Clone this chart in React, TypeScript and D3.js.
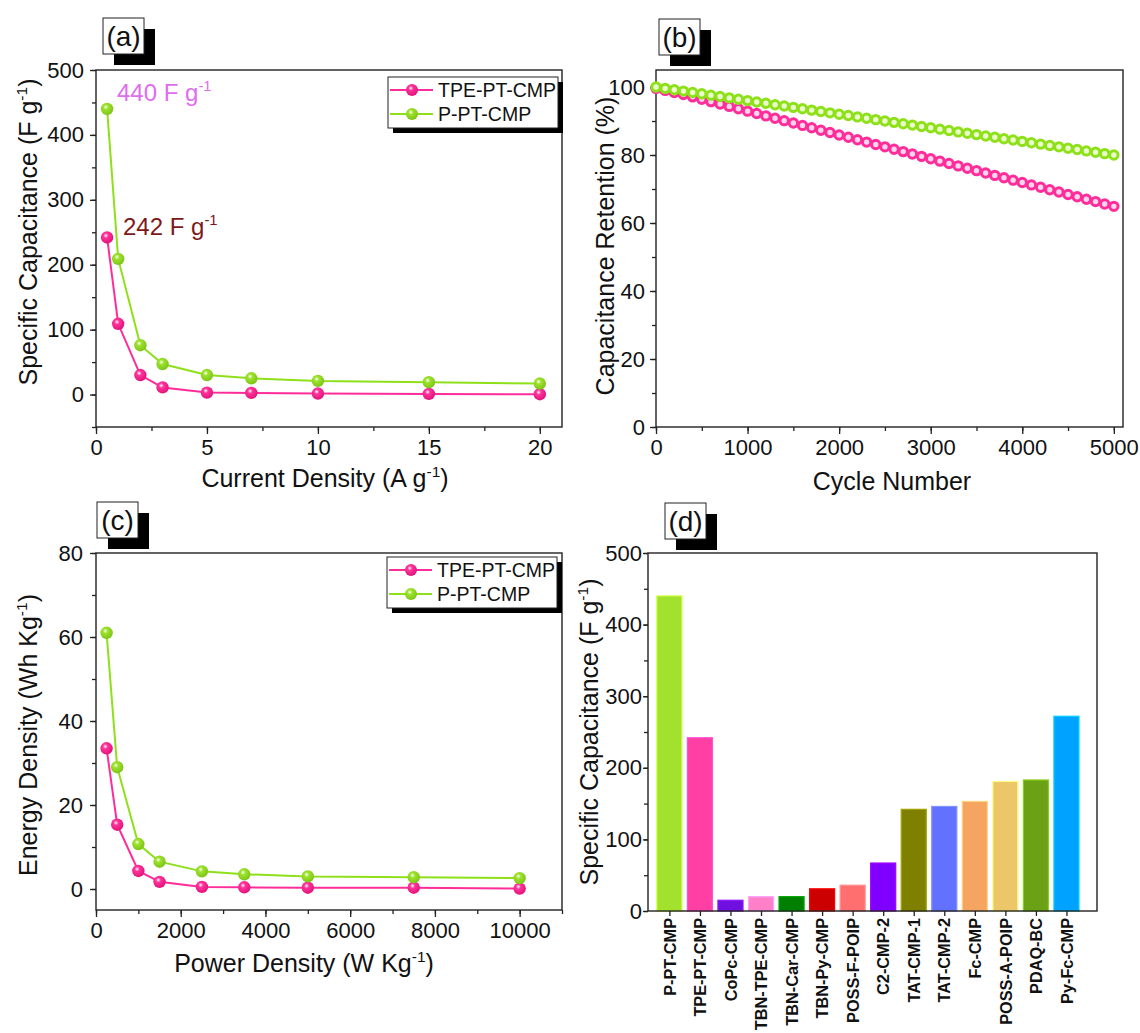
import { useEffect, useRef } from "react";
import * as d3 from "d3";

// (a) specific capacitance vs current density
const currentDensity = [0.5, 1, 2, 3, 5, 7, 10, 15, 20];
const capTPE = [242, 109, 30, 11, 3, 2.5, 1.5, 1, 0.5];
const capP = [440, 209, 76, 47, 30, 25, 21, 19, 17];

// (b) cycling stability
const cycles = [
  0, 100, 200, 300, 400, 500, 600, 700, 800, 900, 1000, 1100, 1200, 1300, 1400, 1500, 1600,
  1700, 1800, 1900, 2000, 2100, 2200, 2300, 2400, 2500, 2600, 2700, 2800, 2900, 3000, 3100,
  3200, 3300, 3400, 3500, 3600, 3700, 3800, 3900, 4000, 4100, 4200, 4300, 4400, 4500, 4600,
  4700, 4800, 4900, 5000,
];
const retentionTPE = [
  99.6, 99.0, 98.4, 97.8, 97.1, 96.4, 95.7, 95.0, 94.3, 93.6, 92.9, 92.2, 91.5, 90.8, 90.1,
  89.4, 88.7, 88.0, 87.3, 86.6, 85.9, 85.2, 84.5, 83.8, 83.1, 82.4, 81.7, 81.0, 80.3, 79.6,
  78.9, 78.2, 77.5, 76.8, 76.1, 75.4, 74.7, 74.0, 73.3, 72.6, 71.9, 71.2, 70.5, 69.8, 69.1,
  68.4, 67.7, 67.0, 66.3, 65.6, 64.9,
];
const retentionP = [
  100, 99.6, 99.2, 98.8, 98.4, 98.0, 97.6, 97.2, 96.8, 96.4, 96.0, 95.6, 95.2, 94.8, 94.4,
  94.0, 93.6, 93.2, 92.8, 92.4, 92.0, 91.6, 91.2, 90.8, 90.4, 90.0, 89.6, 89.2, 88.8, 88.4,
  88.0, 87.6, 87.2, 86.8, 86.4, 86.0, 85.6, 85.2, 84.8, 84.4, 84.0, 83.6, 83.2, 82.8, 82.4,
  82.0, 81.6, 81.2, 80.8, 80.4, 80.0,
];

// (c) Ragone
const powerDensity = [250, 500, 1000, 1500, 2500, 3500, 5000, 7500, 10000];
const energyTPE = [33.5, 15.3, 4.3, 1.7, 0.5, 0.4, 0.3, 0.3, 0.1];
const energyP = [61, 29, 10.7, 6.5, 4.2, 3.5, 3.0, 2.8, 2.6];

// (d) comparison
const materials = [
  "P-PT-CMP", "TPE-PT-CMP", "CoPc-CMP", "TBN-TPE-CMP", "TBN-Car-CMP", "TBN-Py-CMP",
  "POSS-F-POIP", "C2-CMP-2", "TAT-CMP-1", "TAT-CMP-2", "Fc-CMP", "POSS-A-POIP", "PDAQ-BC",
  "Py-Fc-CMP",
];
const materialCap = [440, 242, 15, 20, 20, 31, 36, 67, 142, 146, 153, 181, 183, 272];
const barColors = [
  "#a2e22e", "#ff3fa4", "#7010e0", "#ff7fc8", "#008000", "#cc0000", "#ff6f6f", "#8000ff",
  "#808000", "#6272ff", "#f5a462", "#ebc76a", "#6ba215", "#00a2ff",
];

const seriesNames = ["TPE-PT-CMP", "P-PT-CMP"];

const FONT = "'Liberation Sans', Arial, sans-serif";
const PINK = "#ff2d9a";
const GREEN = "#8ee11a";
const TICK_FS = 22;
const TITLE_FS = 25;

function supText(sel, before, sup, after, fs) {
  sel.append("tspan").text(before);
  sel.append("tspan").attr("dy", -fs * 0.4).attr("font-size", fs * 0.62).text(sup);
  sel.append("tspan").attr("dy", fs * 0.4).text(after);
}

function title(svg, x, y, rotate, parts) {
  const t = svg.append("text")
    .attr("transform", `translate(${x},${y})${rotate ? " rotate(-90)" : ""}`)
    .attr("text-anchor", "middle").attr("font-family", FONT)
    .attr("font-size", TITLE_FS).attr("fill", "#111");
  if (parts.length === 1) t.text(parts[0]);
  else supText(t, parts[0], parts[1], parts[2], TITLE_FS);
}

function drawAxes(svg, x, y, opt) {
  const [x0, x1] = x.range();
  const [y0, y1] = y.range();
  const pad = opt.pad ?? 6;
  const g = svg.append("g");
  g.append("g")
    .attr("transform", `translate(0,${y0})`)
    .call(d3.axisBottom(x).tickValues(opt.xMinor).tickSize(4).tickFormat(() => ""))
    .call((a) => a.select(".domain").remove());
  g.append("g")
    .attr("transform", `translate(0,${y0})`)
    .call(d3.axisBottom(x).tickValues(opt.xMajor).tickSize(7).tickPadding(5).tickFormat(d3.format("d")))
    .call((a) => a.select(".domain").remove());
  g.append("g")
    .attr("transform", `translate(${x0},0)`)
    .call(d3.axisLeft(y).tickValues(opt.yMinor).tickSize(4).tickFormat(() => ""))
    .call((a) => a.select(".domain").remove());
  g.append("g")
    .attr("transform", `translate(${x0},0)`)
    .call(d3.axisLeft(y).tickValues(opt.yMajor).tickSize(6).tickPadding(pad).tickFormat(d3.format("d")))
    .call((a) => a.select(".domain").remove());
  g.selectAll(".tick line").attr("stroke", "#222").attr("stroke-width", 1.3);
  g.selectAll("text").attr("font-family", FONT).attr("font-size", TICK_FS).attr("fill", "#111");
  svg.append("rect")
    .attr("x", x0).attr("y", y1).attr("width", x1 - x0).attr("height", y0 - y1)
    .attr("fill", "none").attr("stroke", "#222").attr("stroke-width", 1.4);
}

function panelLabel(svg, px, py, label) {
  svg.append("rect").attr("x", px + 11).attr("y", py + 11).attr("width", 41).attr("height", 36).attr("fill", "#000");
  svg.append("rect").attr("x", px).attr("y", py).attr("width", 41).attr("height", 36)
    .attr("fill", "#fff").attr("stroke", "#222").attr("stroke-width", 1);
  svg.append("text").attr("x", px + 20.5).attr("y", py + 28).attr("text-anchor", "middle")
    .attr("font-family", FONT).attr("font-size", 28).attr("fill", "#111").text(label);
}

function legend(svg, lx, ly) {
  svg.append("rect").attr("x", lx + 5).attr("y", ly + 5).attr("width", 170).attr("height", 51).attr("fill", "#000");
  svg.append("rect").attr("x", lx).attr("y", ly).attr("width", 170).attr("height", 51)
    .attr("fill", "#fff").attr("stroke", "#222").attr("stroke-width", 1);
  const cols = [PINK, GREEN];
  const grads = ["url(#ballPink)", "url(#ballGreen)"];
  seriesNames.forEach((name, i) => {
    const yy = ly + 13 + i * 24;
    svg.append("line").attr("x1", lx + 2).attr("x2", lx + 45).attr("y1", yy).attr("y2", yy)
      .attr("stroke", cols[i]).attr("stroke-width", 2);
    svg.append("circle").attr("cx", lx + 24).attr("cy", yy).attr("r", 6).attr("fill", grads[i]);
    svg.append("text").attr("x", lx + 50).attr("y", yy + 7).attr("font-family", FONT)
      .attr("font-size", 19.5).attr("fill", "#111").text(name);
  });
}

function ballSeries(svg, x, y, xs, ys, color, grad) {
  const pts = xs.map((d, i) => [x(d), y(ys[i])]);
  svg.append("path").attr("d", d3.line()(pts)).attr("fill", "none").attr("stroke", color).attr("stroke-width", 2);
  svg.append("g").selectAll("circle").data(pts).join("circle")
    .attr("cx", (d) => d[0]).attr("cy", (d) => d[1]).attr("r", 6.2).attr("fill", grad);
}

export default function App() {
  const ref = useRef(null);

  useEffect(() => {
    const svg = d3.select(ref.current);
    svg.selectAll("*").remove();

    const defs = svg.append("defs");
    [["ballPink", "#ff3399", "#e0137a"], ["ballGreen", "#9de22b", "#7cc41a"]].forEach(([id, c, dark]) => {
      const rg = defs.append("radialGradient").attr("id", id).attr("cx", "40%").attr("cy", "35%").attr("r", "65%");
      rg.append("stop").attr("offset", "0%").attr("stop-color", "#fff");
      rg.append("stop").attr("offset", "30%").attr("stop-color", c);
      rg.append("stop").attr("offset", "100%").attr("stop-color", dark);
    });

    // ---- (a)
    const xa = d3.scaleLinear().domain([0, 21]).range([96, 562]);
    const ya = d3.scaleLinear().domain([-50, 500]).range([427, 70]);
    drawAxes(svg, xa, ya, {
      xMajor: [0, 5, 10, 15, 20], xMinor: d3.range(0, 21, 2.5),
      yMajor: [0, 100, 200, 300, 400, 500], yMinor: d3.range(-50, 501, 50),
    });
    ballSeries(svg, xa, ya, currentDensity, capTPE, PINK, "url(#ballPink)");
    ballSeries(svg, xa, ya, currentDensity, capP, GREEN, "url(#ballGreen)");
    legend(svg, 388, 77);
    supText(svg.append("text").attr("x", 117).attr("y", 101).attr("font-family", FONT)
      .attr("font-size", 24).attr("fill", "#e06cf0"), "440 F g", "-1", "", 24);
    supText(svg.append("text").attr("x", 123).attr("y", 235).attr("font-family", FONT)
      .attr("font-size", 24).attr("fill", "#7d1818"), "242 F g", "-1", "", 24);
    title(svg, 325, 487, false, ["Current Density (A g", "-1", ")"]);
    title(svg, 37, 232, true, ["Specific Capacitance (F g", "-1", ")"]);
    panelLabel(svg, 103, 18, "(a)");

    // ---- (b)
    const xb = d3.scaleLinear().domain([0, 5100]).range([656, 1123]);
    const yb = d3.scaleLinear().domain([0, 105]).range([427, 70]);
    drawAxes(svg, xb, yb, {
      xMajor: [0, 1000, 2000, 3000, 4000, 5000], xMinor: d3.range(0, 5001, 500),
      yMajor: [0, 20, 40, 60, 80, 100], yMinor: d3.range(0, 101, 10), pad: 5,
    });
    [[retentionTPE, PINK, "#ffd6ec"], [retentionP, GREEN, "#eaffcc"]].forEach(([vals, c, f]) => {
      svg.append("g").selectAll("circle").data(cycles).join("circle")
        .attr("cx", (d) => xb(d)).attr("cy", (d, i) => yb(vals[i])).attr("r", 4.2)
        .attr("fill", f).attr("stroke", c).attr("stroke-width", 3);
    });
    title(svg, 892, 490, false, ["Cycle Number"]);
    title(svg, 614, 246, true, ["Capacitance Retention (%)"]);
    panelLabel(svg, 659, 19, "(b)");

    // ---- (c)
    const xc = d3.scaleLinear().domain([0, 11000]).range([96, 562]);
    const yc = d3.scaleLinear().domain([-5, 80]).range([910, 553]);
    drawAxes(svg, xc, yc, {
      xMajor: [0, 2000, 4000, 6000, 8000, 10000], xMinor: d3.range(0, 11001, 1000),
      yMajor: [0, 20, 40, 60, 80], yMinor: d3.range(0, 81, 10), pad: 7,
    });
    ballSeries(svg, xc, yc, powerDensity, energyTPE, PINK, "url(#ballPink)");
    ballSeries(svg, xc, yc, powerDensity, energyP, GREEN, "url(#ballGreen)");
    legend(svg, 387, 557);
    title(svg, 304, 972, false, ["Power Density (W Kg", "-1", ")"]);
    title(svg, 37, 735, true, ["Energy Density (Wh Kg", "-1", ")"]);
    panelLabel(svg, 97, 502, "(c)");

    // ---- (d)
    const idx = materials.map((_, i) => i + 1);
    const xd = d3.scaleLinear().domain([0.3, 15]).range([648, 1097]);
    const yd = d3.scaleLinear().domain([0, 500]).range([911, 553]);
    const bw = (xd(2) - xd(1)) * 0.82;
    svg.append("g").selectAll("rect").data(idx).join("rect")
      .attr("x", (d) => xd(d) - bw / 2).attr("width", bw)
      .attr("y", (d) => yd(materialCap[d - 1])).attr("height", (d) => yd(0) - yd(materialCap[d - 1]))
      .attr("fill", (d) => barColors[d - 1])
      .attr("stroke", (d) => d3.color(barColors[d - 1]).brighter(0.7).formatHex())
      .attr("stroke-width", 1.2);
    const gy = svg.append("g");
    gy.append("g").attr("transform", "translate(648,0)")
      .call(d3.axisLeft(yd).tickValues(d3.range(0, 501, 50)).tickSize(4).tickFormat(() => ""))
      .call((a) => a.select(".domain").remove());
    gy.append("g").attr("transform", "translate(648,0)")
      .call(d3.axisLeft(yd).tickValues([0, 100, 200, 300, 400, 500]).tickSize(5).tickPadding(1))
      .call((a) => a.select(".domain").remove());
    gy.selectAll("text").attr("font-family", FONT).attr("font-size", TICK_FS).attr("fill", "#111");
    const gx = svg.append("g").attr("transform", "translate(0,911)")
      .call(d3.axisBottom(xd).tickValues(idx).tickSize(5).tickFormat((d) => materials[d - 1]))
      .call((a) => a.select(".domain").remove());
    gx.selectAll("text")
      .attr("y", 0).attr("x", -7).attr("dy", "0.35em")
      .attr("transform", "rotate(-90)").attr("text-anchor", "end")
      .attr("font-family", FONT).attr("font-size", 16.3).attr("font-weight", "bold").attr("fill", "#111");
    svg.selectAll(".tick line").attr("stroke", "#222").attr("stroke-width", 1.3);
    svg.append("rect").attr("x", 648).attr("y", 553).attr("width", 1097 - 648).attr("height", 911 - 553)
      .attr("fill", "none").attr("stroke", "#222").attr("stroke-width", 1.4);
    title(svg, 598, 732, true, ["Specific Capacitance (F g", "-1", ")"]);
    panelLabel(svg, 665, 503, "(d)");
  }, []);

  return (
    <svg
      ref={ref}
      width={1140}
      height={1033}
      style={{ position: "absolute", left: 0, top: 0, background: "#fff" }}
    />
  );
}
